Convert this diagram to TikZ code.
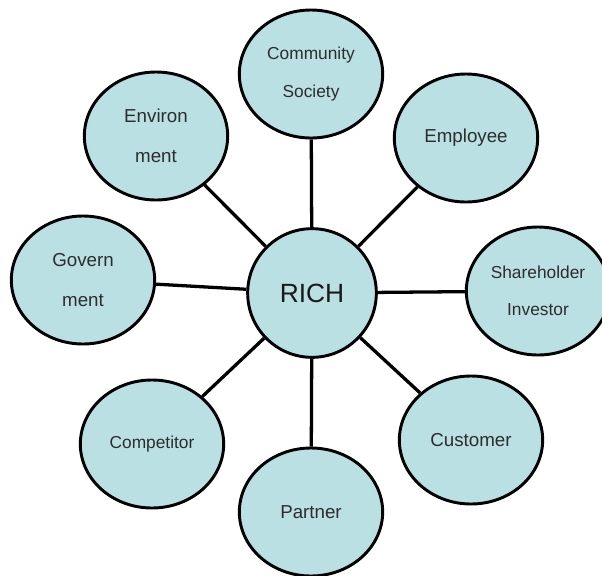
\documentclass[tikz,border=0pt]{standalone}
\usepackage{fontspec}
\setmainfont{Liberation Sans}
\usepackage{tikz}
\usetikzlibrary{shapes.geometric}
\usepackage{xcolor}

\definecolor{stakefill}{RGB}{186,224,228}
\definecolor{staketext}{RGB}{45,45,45}

\begin{document}
\begin{tikzpicture}[x=0.03cm, y=-0.03cm,
  stake/.style={ellipse, draw=black, line width=2.5pt, fill=stakefill, text=staketext,
    minimum width=4.3cm, minimum height=3.84cm, inner sep=0pt, align=center,
    font=\fontsize{16pt}{34pt}\selectfont},
  smalltext/.style={font=\fontsize{14.8pt}{32pt}\selectfont},
  hub/.style={circle, draw=black, line width=2.5pt, fill=stakefill, text=black!90,
    minimum size=3.86cm, inner sep=0pt, font=\fontsize{22.5pt}{26pt}\selectfont},
  spoke/.style={line width=2.8pt, black}]
\useasboundingbox (0,0) rectangle (602,576);
\clip (0,0) rectangle (602,576);

% centre
\node[hub] (rich) at (312,293) {RICH};

% stakeholders, clockwise from the top
\node[stake, smalltext] (comm) at (311,74) {Community\\Society};
\node[stake] (emp) at (466,138) {Employee};
\node[stake, smalltext] (share) at (538,291) {Shareholder\\Investor};
\node[stake] (cust) at (471,440) {Customer};
\node[stake] (part) at (311,512) {Partner};
\node[stake, smalltext] (comp) at (152,444) {Competitor};
\node[stake] (gov) at (83,280) {Govern\\ment};
\node[stake] (env) at (156,136) {Environ\\ment};

% spokes
\draw[spoke] (rich) -- (comm);
\draw[spoke] (rich) -- (emp);
\draw[spoke] (rich) -- (share);
\draw[spoke] (rich) -- (cust);
\draw[spoke] (rich) -- (part);
\draw[spoke] (rich) -- (comp);
\draw[spoke] (rich) -- (gov);
\draw[spoke] (rich) -- (env);

\end{tikzpicture}
\end{document}
